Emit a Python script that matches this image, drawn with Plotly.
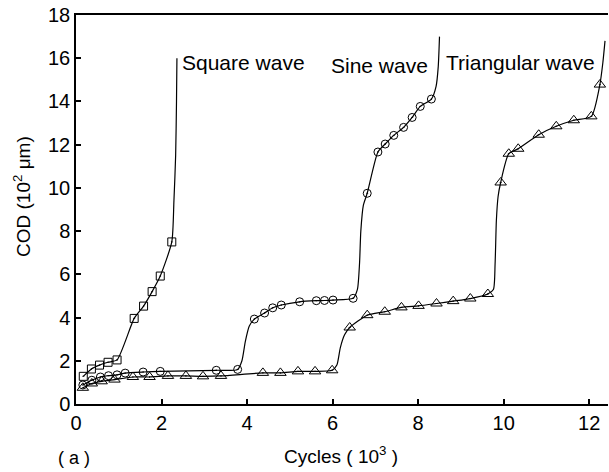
import plotly.graph_objects as go

# ---------------- data ----------------
square_x = [0.17, 0.36, 0.55, 0.75, 0.96, 1.36, 1.58, 1.78, 1.97, 2.24]
square_y = [1.28, 1.62, 1.80, 1.93, 2.04, 3.96, 4.53, 5.20, 5.92, 7.50]
square_tail_x = [2.29, 2.33, 2.35, 2.36]
square_tail_y = [9.4, 11.5, 14.0, 16.0]

sine_x = [0.16, 0.37, 0.57, 0.76, 0.96, 1.15, 1.57, 1.97, 3.28, 3.78,
          4.17, 4.41, 4.60, 4.80, 5.23, 5.62, 5.81, 6.01, 6.48,
          6.81, 7.06, 7.23, 7.43, 7.66, 7.86, 8.05, 8.31]
sine_y = [0.88, 1.10, 1.25, 1.31, 1.35, 1.43, 1.48, 1.51, 1.56, 1.60,
          3.93, 4.21, 4.45, 4.58, 4.73, 4.78, 4.79, 4.81, 4.89,
          9.75, 11.66, 12.03, 12.43, 12.80, 13.26, 13.77, 14.11]
sine_extra_x = [3.88, 3.96, 4.05, 6.58, 6.63, 6.66, 6.72, 8.42, 8.47, 8.50]
sine_extra_y = [2.0, 2.9, 3.6, 5.3, 6.5, 8.0, 9.2, 14.7, 15.6, 17.0]

tri_x = [0.16, 0.37, 0.60, 0.90, 1.33, 1.72, 2.15, 2.57, 2.97, 3.39,
         4.37, 4.78, 5.19, 5.59, 5.99, 6.40, 6.81, 7.22, 7.61, 8.01,
         8.43, 8.82, 9.22, 9.63, 9.93, 10.12, 10.34, 10.82, 11.23,
         11.64, 12.05, 12.25]
tri_y = [0.75, 0.95, 1.05, 1.13, 1.25, 1.25, 1.30, 1.30, 1.28, 1.30,
         1.44, 1.44, 1.51, 1.51, 1.56, 3.54, 4.11, 4.27, 4.47, 4.54,
         4.65, 4.76, 4.88, 5.09, 10.25, 11.58, 11.81, 12.46, 12.85,
         13.13, 13.31, 14.78]
tri_extra_x = [6.10, 6.18, 6.28, 9.76, 9.80, 9.83, 9.87, 12.32, 12.37]
tri_extra_y = [1.8, 2.6, 3.2, 5.3, 6.5, 8.5, 9.6, 15.8, 16.8]

x_ticks = [0, 2, 4, 6, 8, 10, 12]
y_ticks = [0, 2, 4, 6, 8, 10, 12, 14, 16, 18]

labels = ["Square wave", "Sine wave", "Triangular wave"]
label_x = [2.44, 5.92, 8.61]
label_y = [15.8, 15.65, 15.8]


def merged(xs, ys, ex, ey):
    pts = sorted(zip(list(xs) + list(ex), list(ys) + list(ey)))
    return [p[0] for p in pts], [p[1] for p in pts]


FONT = "Liberation Sans, Arial, sans-serif"
fig = go.Figure()

series = [
    (square_x, square_y, square_tail_x, square_tail_y, "square-open-dot", 8),
    (sine_x, sine_y, sine_extra_x, sine_extra_y, "circle-open-dot", 8),
    (tri_x, tri_y, tri_extra_x, tri_extra_y, "triangle-up-open-dot", 10),
]
for xs, ys, ex, ey, sym, sz in series:
    lx, ly = merged(xs, ys, ex, ey)
    fig.add_trace(go.Scatter(x=lx, y=ly, mode="lines",
                             line=dict(color="black", width=1.2, shape="spline", smoothing=0.6),
                             hoverinfo="skip", showlegend=False))
    fig.add_trace(go.Scatter(x=xs, y=ys, mode="markers",
                             marker=dict(symbol=sym, size=sz, color="black",
                                         line=dict(color="black", width=1)),
                             showlegend=False))

for t, lx, ly in zip(labels, label_x, label_y):
    fig.add_annotation(x=lx, y=ly, text=t, showarrow=False, xanchor="left", yanchor="middle",
                       font=dict(family=FONT, size=21, color="black"))

fig.add_annotation(xref="paper", yref="paper", x=(341 - 76) / 532, y=-(455 - 404) / 389,
                   text="Cycles ( 10<sup>3</sup> )", showarrow=False, xanchor="center", yanchor="middle",
                   font=dict(family=FONT, size=19, color="black"))
fig.add_annotation(xref="paper", yref="paper", x=(74 - 76) / 532, y=-(458 - 404) / 389,
                   text="( a )", showarrow=False, xanchor="center", yanchor="middle",
                   font=dict(family=FONT, size=18, color="black"))
fig.add_annotation(xref="paper", yref="paper", x=(22 - 76) / 532, y=(404 - 197) / 389,
                   text="COD (10<sup>2</sup> μm)", showarrow=False, textangle=-90,
                   xanchor="center", yanchor="middle",
                   font=dict(family=FONT, size=19, color="black"))

fig.update_xaxes(range=[0, 12.44], tickvals=x_ticks, ticktext=[str(v) for v in x_ticks],
                 ticks="inside", ticklen=5, tickwidth=1.5, tickcolor="black",
                 showline=True, linecolor="black", linewidth=1.5, mirror=True,
                 showgrid=False, zeroline=False,
                 tickfont=dict(family=FONT, size=20, color="black"))
fig.update_yaxes(range=[0, 18], tickvals=y_ticks, ticktext=[str(v) for v in y_ticks],
                 ticks="inside", ticklen=5, tickwidth=1.5, tickcolor="black",
                 showline=True, linecolor="black", linewidth=1.5,
                 showgrid=False, zeroline=False,
                 tickfont=dict(family=FONT, size=20, color="black"))

fig.update_layout(width=609, height=472, margin=dict(l=76, r=1, t=15, b=68),
                  plot_bgcolor="white", paper_bgcolor="white")

fig.write_html("out.html")
